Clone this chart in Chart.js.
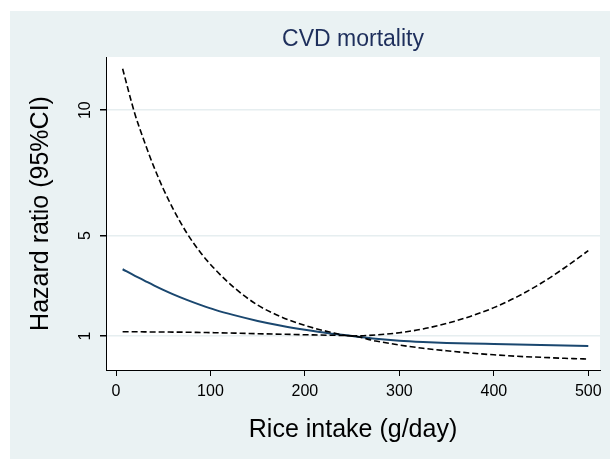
<!DOCTYPE html>
<html lang="en">
<head>
    <meta charset="UTF-8">
    <title>CVD mortality</title>
    <style>
        body {
            margin: 0;
            background: #ffffff;
        }
        #chart-container {
            position: absolute;
            left: 10px;
            top: 11px;
            width: 600px;
            height: 448px;
            background: #eaf2f3;
        }
    </style>
</head>
<body>
    <div id="chart-container">
        <canvas id="hrChart" width="600" height="448"></canvas>
    </div>
    <script src="https://cdn.jsdelivr.net/npm/chart.js"></script>
    <script>
        // rice intake (g/day)
        const intake = [7, 20, 30, 40, 50, 60, 75, 90, 105, 125, 150, 175, 200, 225, 250, 275, 300, 325, 350, 375, 400, 425, 450, 475, 500];
        // hazard ratio and 95% CI
        const hrEst = [3.66, 3.4, 3.21, 3.02, 2.84, 2.67, 2.44, 2.23, 2.04, 1.83, 1.6, 1.41, 1.25, 1.11, 1.0, 0.89, 0.81, 0.76, 0.725, 0.7, 0.68, 0.66, 0.64, 0.62, 0.6];
        const hrUpper = [11.65, 9.85, 8.75, 7.75, 6.87, 6.1, 5.1, 4.3, 3.65, 2.93, 2.23, 1.76, 1.42, 1.17, 1.0, 1.04, 1.13, 1.28, 1.5, 1.78, 2.13, 2.57, 3.1, 3.72, 4.4];
        const hrLower = [1.17, 1.17, 1.165, 1.16, 1.16, 1.155, 1.15, 1.14, 1.13, 1.115, 1.09, 1.07, 1.05, 1.03, 1.0, 0.8, 0.64, 0.51, 0.41, 0.32, 0.25, 0.19, 0.15, 0.11, 0.08];

        const xTicks = [0, 100, 200, 300, 400, 500];
        const yTicks = [1, 5, 10];

        const FONT = "'Liberation Sans', Arial, sans-serif";

        const toPoints = arr => arr.map((v, i) => ({ x: intake[i], y: v }));

        // white plot region
        const plotBg = {
            id: 'plotBg',
            beforeDraw(chart) {
                const { ctx, chartArea: a } = chart;
                ctx.save();
                ctx.fillStyle = '#ffffff';
                ctx.fillRect(a.left, a.top, a.right - a.left, a.bottom - a.top);
                ctx.restore();
            }
        };

        const dashed = {
            borderColor: '#000000',
            borderWidth: 1.6,
            borderDash: [6, 3],
            pointRadius: 0,
            fill: false,
            cubicInterpolationMode: 'monotone'
        };

        const ctx = document.getElementById('hrChart').getContext('2d');
        const chart = new Chart(ctx, {
            type: 'line',
            data: {
                datasets: [
                    Object.assign({ label: 'Upper 95% CI', data: toPoints(hrUpper) }, dashed),
                    Object.assign({ label: 'Lower 95% CI', data: toPoints(hrLower) }, dashed),
                    {
                        label: 'Hazard ratio',
                        data: toPoints(hrEst),
                        borderColor: '#1a476f',
                        borderWidth: 2,
                        pointRadius: 0,
                        fill: false,
                        cubicInterpolationMode: 'monotone'
                    }
                ]
            },
            options: {
                responsive: false,
                animation: false,
                layout: {
                    padding: { left: 0, right: 10, top: 0, bottom: 0 }
                },
                plugins: {
                    legend: { display: false },
                    tooltip: { enabled: false },
                    title: {
                        display: true,
                        text: 'CVD mortality',
                        color: '#1e2f5c',
                        fullSize: false,
                        font: { family: FONT, size: 23, weight: 'normal' },
                        padding: { top: 15, bottom: 3.4 }
                    }
                },
                scales: {
                    x: {
                        type: 'linear',
                        min: -10.6,
                        max: 512.4,
                        afterBuildTicks: s => { s.ticks = xTicks.map(v => ({ value: v })); },
                        afterFit: s => { s.height = 89; },
                        ticks: {
                            color: '#000000',
                            font: { family: FONT, size: 16 },
                            padding: 6,
                            maxRotation: 0
                        },
                        grid: {
                            drawOnChartArea: false,
                            tickColor: '#000000',
                            tickLength: 6
                        },
                        border: { color: '#000000', width: 1 },
                        title: {
                            display: true,
                            text: 'Rice intake (g/day)',
                            color: '#000000',
                            font: { family: FONT, size: 25 },
                            padding: { top: 0, bottom: 14 }
                        }
                    },
                    y: {
                        type: 'linear',
                        min: -0.356,
                        max: 12.12,
                        afterBuildTicks: s => { s.ticks = yTicks.map(v => ({ value: v })); },
                        afterFit: s => { s.width = 96; },
                        ticks: {
                            color: '#000000',
                            font: { family: FONT, size: 16 },
                            minRotation: 90,
                            maxRotation: 90,
                            crossAlign: 'center',
                            padding: 6
                        },
                        grid: {
                            color: '#e6eef0',
                            lineWidth: 1.5,
                            tickColor: '#000000',
                            tickLength: 6
                        },
                        border: { color: '#000000', width: 1 },
                        title: {
                            display: true,
                            text: 'Hazard ratio (95%CI)',
                            color: '#000000',
                            font: { family: FONT, size: 25 },
                            padding: { top: 16, bottom: 0 }
                        }
                    }
                }
            },
            plugins: [plotBg]
        });
    </script>
</body>
</html>
